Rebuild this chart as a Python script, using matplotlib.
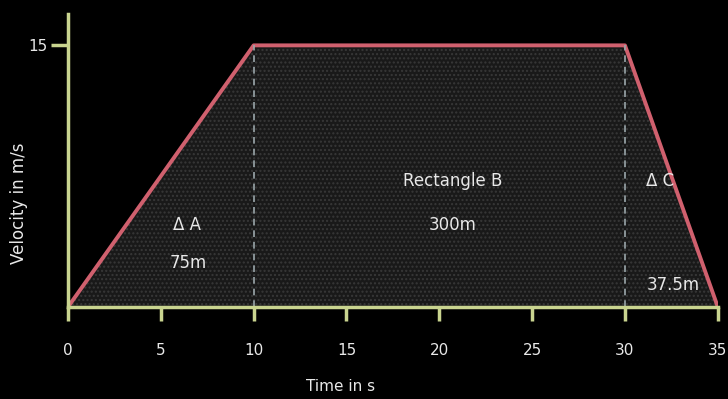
import matplotlib.pyplot as plt

# datos del gráfico velocidad-tiempo
time_s = [0, 10, 30, 35]
velocity = [0, 15, 15, 0]
x_ticks = [0, 5, 10, 15, 20, 25, 30, 35]
y_ticks = [15]
dashed_at = [10, 30]

axis_col = "#c9d48f"
line_col = "#d0606e"
text_col = "#e8e8e8"

plt.rcParams["hatch.linewidth"] = 1.0
plt.rcParams["hatch.color"] = "#383838"

fig = plt.figure(figsize=(7.28, 3.99), dpi=100, facecolor="black")
ax = fig.add_axes([0.0934, 0.2306, 0.8926, 0.7344])
ax.set_facecolor("black")

# area sombreada con puntos
ax.fill_between(time_s, velocity, 0, facecolor="#191919", hatch="....",
                edgecolor="#383838", linewidth=0)
ax.plot(time_s, velocity, color=line_col, linewidth=2.8, solid_capstyle="butt")

for t in dashed_at:
    ax.plot([t, t], [0, 15], color="#9aa6aa", linestyle=(0, (4, 3)), linewidth=1.2)

ax.set_xlim(0, 35)
ax.set_ylim(0, 16.8)
ax.set_xticks(x_ticks)
ax.set_yticks(y_ticks)

for side in ["top", "right"]:
    ax.spines[side].set_visible(False)
for side in ["left", "bottom"]:
    ax.spines[side].set_color(axis_col)
    ax.spines[side].set_linewidth(2.5)

ax.tick_params(colors=axis_col, width=2.5, length=10, direction="out",
               labelcolor=text_col, labelsize=11, pad=16)
ax.tick_params(axis="y", length=12, pad=3)

ax.set_xlabel("Time in s", color=text_col, fontsize=11)
ax.xaxis.set_label_coords(0.42, -0.245)
ax.set_ylabel("Velocity in m/s", color=text_col, fontsize=12)
ax.yaxis.set_label_coords(-0.062, 0.355)

kw = dict(color=text_col, fontsize=12, ha="center", va="center")
ax.text(6.4, 4.7, "Δ A", **kw)
ax.text(6.5, 2.5, "75m", **kw)
ax.text(20.7, 7.2, "Rectangle B", **kw)
ax.text(20.7, 4.7, "300m", **kw)
ax.text(31.9, 7.2, "Δ C", **kw)
ax.text(32.6, 1.26, "37.5m", **kw)

plt.savefig("out.png", dpi=100, facecolor="black")
